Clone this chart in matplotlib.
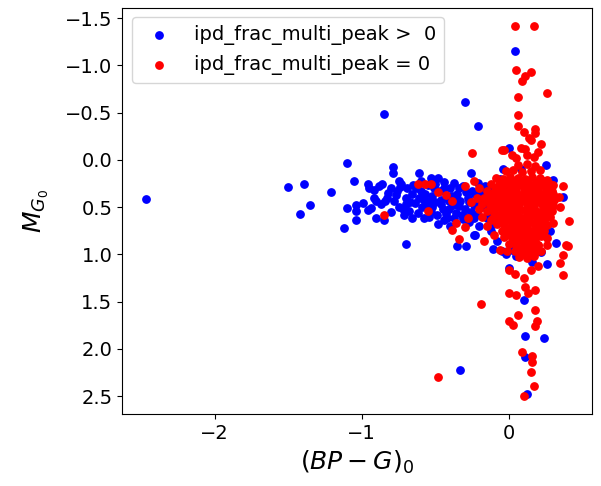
"""
Colour-magnitude diagram: ipd_frac_multi_peak > 0 vs = 0
"""
import matplotlib
matplotlib.use("Agg")
import matplotlib.pyplot as plt

plt.rcParams.update({
    "font.size": 14, "axes.labelsize": 18, "legend.fontsize": 14,
    "xtick.labelsize": 14, "ytick.labelsize": 14,
})

# (BP-G)_0 and M_G0, multi-peak > 0 (blue)
blue_x = [
    -2.47, -1.50, -1.39, -1.42, -1.35, -1.21, -1.10, -1.05, -1.10, -1.04,
    -1.04, -1.04, -1.12, -0.99, -0.96, -0.95, -0.92, -0.90, -0.96, -0.94,
    -0.90, -0.85, -0.30, -0.21, 0.04, 0.00, -0.79, -0.79, 0.25, -0.70,
    -0.85, -0.35, -0.29, -0.23, -0.11, 0.10, 0.11, 0.24, 0.11, 0.12,
    -0.33, 0.00, 0.16, 0.26, 0.32, 0.37, -0.26, -0.29, -0.24, -0.61,
    -0.53, -0.48, -0.44, -0.37,
    -0.88, -0.86, -0.75, -0.73, -0.84, -0.78, -0.72, -0.68, -0.66, -0.63,
    -0.60, -0.58, -0.56, -0.55, -0.52, -0.50, -0.49, -0.47, -0.45, -0.43,
    -0.42, -0.40, -0.38, -0.36, -0.35, -0.33, -0.31, -0.30, -0.28, -0.27,
    -0.25, -0.24, -0.22, -0.21, -0.20, -0.18, -0.17, -0.15, -0.14, -0.12,
    -0.10, -0.08, -0.06, -0.05, -0.02, 0.02, -0.82, -0.80, -0.77, -0.70,
    -0.69, -0.64, -0.62, -0.59, -0.57, -0.54, -0.51, -0.46, -0.44, -0.41,
    -0.39, -0.37, -0.34, -0.32, -0.29, -0.26, -0.23, -0.19, -0.16, -0.13,
    -0.09, -0.07, -0.04, -0.58, -0.53, -0.48, -0.44, -0.40, -0.60, -0.50,
    -0.66, -0.75, -0.80, -0.71, -0.87, -0.92, 0.30, 0.28, 0.22, 0.05,
    0.08, -0.04,
    -0.83, -0.76, -0.67, -0.61, -0.55, -0.46, -0.41, -0.34, -0.27, -0.19,
    -0.74, -0.65, -0.52, -0.43, -0.36, -0.31, -0.24, -0.15, -0.11, -0.70,
]
blue_y = [
    0.41, 0.29, 0.25, 0.57, 0.48, 0.34, 0.03, 0.22, 0.51, 0.48,
    0.54, 0.64, 0.72, 0.46, 0.26, 0.30, 0.32, 0.44, 0.53, 0.51,
    0.62, -0.49, -0.61, -0.36, -1.15, -0.13, 0.07, 0.14, 0.05, 0.89,
    0.64, 0.91, 0.91, 0.79, 0.94, 1.48, 1.86, 1.88, 2.09, 2.48,
    2.22, 1.14, 1.08, 1.10, 0.88, 0.39, 0.14, 0.60, 0.80, 0.14,
    0.19, 0.19, 0.23, 0.24,
    0.28, 0.25, 0.22, 0.25, 0.43, 0.44, 0.52, 0.54, 0.36, 0.30,
    0.33, 0.42, 0.48, 0.27, 0.38, 0.45, 0.58, 0.33, 0.52, 0.40,
    0.62, 0.30, 0.48, 0.56, 0.36, 0.44, 0.28, 0.52, 0.40, 0.66,
    0.33, 0.48, 0.57, 0.24, 0.70, 0.38, 0.50, 0.62, 0.30, 0.75,
    0.44, 0.86, 0.20, 0.96, 1.00, 0.95, 0.35, 0.30, 0.37, 0.40,
    0.30, 0.46, 0.56, 0.50, 0.36, 0.60, 0.30, 0.42, 0.30, 0.52,
    0.38, 0.62, 0.30, 0.58, 0.34, 0.55, 0.36, 0.45, 0.28, 0.55,
    0.34, 0.62, 0.25, 0.62, 0.55, 0.68, 0.64, 0.70, 0.22, 0.25,
    0.61, 0.50, 0.55, 0.58, 0.47, 0.40, 0.21, 0.75, 0.98, 1.02,
    0.10, 0.10,
    0.40, 0.33, 0.45, 0.40, 0.43, 0.47, 0.44, 0.49, 0.45, 0.33,
    0.29, 0.27, 0.50, 0.57, 0.41, 0.63, 0.61, 0.40, 0.68, 0.47,
]

# multi-peak = 0 (red)
red_x = [
    0.04, 0.17, 0.05, 0.15, 0.11, 0.09, 0.26, 0.06, 0.06, 0.06,
    0.10, 0.18, 0.18, 0.14, 0.15, 0.22, -0.25, -0.03, -0.05, 0.02,
    0.08, 0.11, 0.17, 0.12, 0.20, 0.05,
    0.37, 0.30, 0.34, 0.35, 0.41, 0.30, 0.28, 0.30, 0.26, 0.26,
    0.22, 0.20, 0.39, 0.40, 0.37, 0.35, 0.37, 0.20, 0.15, 0.04,
    0.10, 0.11, 0.00, 0.00, 0.05, 0.13, 0.18, -0.19, 0.06, 0.18,
    0.00, 0.03, 0.19, 0.18, 0.09, 0.16, 0.16, 0.15, 0.17, 0.10,
    -0.48, -0.85,
    -0.62, -0.57, -0.53, -0.48, -0.43, -0.39, -0.55, -0.30, -0.39, -0.36,
    -0.34, -0.28, -0.17, -0.06, -0.01, -0.30, -0.24, -0.20, -0.26, -0.22,
    -0.18, -0.15, -0.12, -0.20, -0.10,
    0.06, 0.12, 0.18,
    -0.02, 0.03, 0.09, 0.15, 0.21,
    -0.09, -0.04, 0.01, 0.06, 0.11, 0.16, 0.21, 0.26,
    -0.12, -0.07, -0.02, 0.03, 0.08, 0.13, 0.18, 0.23, 0.27,
    -0.15, -0.10, -0.05, 0.00, 0.05, 0.10, 0.15, 0.20, 0.25, 0.29,
    -0.17, -0.12, -0.07, -0.02, 0.03, 0.08, 0.13, 0.18, 0.23, 0.28, 0.31,
    -0.18, -0.13, -0.08, -0.03, 0.02, 0.07, 0.12, 0.17, 0.22, 0.27, 0.30,
    -0.15, -0.10, -0.05, 0.00, 0.05, 0.10, 0.15, 0.20, 0.25, 0.29,
    -0.11, -0.06, -0.01, 0.04, 0.09, 0.14, 0.19, 0.24, 0.28,
    -0.08, -0.03, 0.02, 0.07, 0.12, 0.17, 0.22, 0.26,
    -0.05, 0.00, 0.05, 0.10, 0.15, 0.20, 0.24,
    -0.03, 0.02, 0.07, 0.12, 0.17, 0.22,
    0.00, 0.05, 0.10, 0.15, 0.20,
    0.04, 0.09, 0.14, 0.19,
    0.07, 0.12, 0.17,
    -0.06, -0.01, 0.04, 0.08, 0.13, 0.19, 0.24,
    -0.09, -0.05, 0.01, 0.05, 0.11, 0.15, 0.20, 0.25,
    -0.13, -0.08, -0.03, 0.02, 0.07, 0.12, 0.18, 0.22, 0.27,
    -0.14, -0.10, -0.04, 0.01, 0.06, 0.10, 0.16, 0.21, 0.26,
    -0.12, -0.08, -0.02, 0.03, 0.07, 0.13, 0.17, 0.23, 0.27,
    -0.09, -0.04, 0.02, 0.06, 0.12, 0.16, 0.22, 0.26,
    -0.05, 0.00, 0.04, 0.10, 0.14, 0.19, 0.24,
    -0.02, 0.03, 0.08, 0.12, 0.18, 0.22,
    0.01, 0.05, 0.09, 0.15, 0.19,
    0.03, 0.07, 0.12, 0.18,
    0.06, 0.11, 0.16,
    0.10, 0.14,
]
red_y = [
    -1.42, -1.42, -0.95, -0.93, -0.89, -0.84, -0.71, -0.67, -0.47, -0.36,
    -0.29, -0.33, -0.28, -0.23, -0.21, -0.17, -0.07, -0.11, -0.11, -0.05,
    -0.13, -0.12, -0.03, -0.05, -0.08, -0.02,
    0.28, 0.27, 0.39, 0.50, 0.65, 0.36, 0.26, 0.67, 0.83, 0.90,
    0.96, 0.90, 0.90, 0.91, 1.01, 1.09, 1.22, 1.12, 1.17, 1.21,
    1.25, 1.34, 1.16, 1.41, 1.43, 1.41, 1.38, 1.52, 1.64, 1.59,
    1.71, 1.75, 1.71, 1.76, 2.03, 2.08, 2.14, 2.25, 2.39, 2.50,
    2.30, 0.58,
    0.26, 0.26, 0.26, 0.34, 0.37, 0.43, 0.54, 0.28, 0.74, 0.67,
    0.84, 0.62, 0.86, 0.95, 0.96, 0.71, 0.22, 0.30, 0.45, 0.40,
    0.60, 0.70, 0.64, 0.52, 0.80,
    0.05, 0.04, 0.06,
    0.12, 0.11, 0.13, 0.12, 0.11,
    0.19, 0.20, 0.18, 0.19, 0.20, 0.18, 0.19, 0.21,
    0.26, 0.27, 0.25, 0.26, 0.27, 0.25, 0.26, 0.27, 0.25,
    0.33, 0.34, 0.32, 0.33, 0.34, 0.32, 0.33, 0.34, 0.32, 0.33,
    0.40, 0.41, 0.39, 0.40, 0.41, 0.39, 0.40, 0.41, 0.39, 0.40, 0.42,
    0.47, 0.48, 0.46, 0.47, 0.48, 0.46, 0.47, 0.48, 0.46, 0.47, 0.49,
    0.54, 0.55, 0.53, 0.54, 0.55, 0.53, 0.54, 0.55, 0.53, 0.54,
    0.61, 0.62, 0.60, 0.61, 0.62, 0.60, 0.61, 0.62, 0.60,
    0.68, 0.69, 0.67, 0.68, 0.69, 0.67, 0.68, 0.69,
    0.75, 0.76, 0.74, 0.75, 0.76, 0.74, 0.75,
    0.82, 0.83, 0.81, 0.82, 0.83, 0.81,
    0.89, 0.90, 0.88, 0.89, 0.90,
    0.96, 0.97, 0.95, 0.96,
    1.03, 1.04, 1.02,
    0.22, 0.23, 0.22, 0.23, 0.22, 0.23, 0.22,
    0.30, 0.29, 0.30, 0.29, 0.30, 0.29, 0.30, 0.29,
    0.37, 0.36, 0.37, 0.36, 0.37, 0.36, 0.37, 0.36, 0.37,
    0.44, 0.43, 0.44, 0.43, 0.44, 0.43, 0.44, 0.43, 0.44,
    0.51, 0.50, 0.51, 0.50, 0.51, 0.50, 0.51, 0.50, 0.51,
    0.58, 0.57, 0.58, 0.57, 0.58, 0.57, 0.58, 0.57,
    0.65, 0.64, 0.65, 0.64, 0.65, 0.64, 0.65,
    0.72, 0.71, 0.72, 0.71, 0.72, 0.71,
    0.79, 0.78, 0.79, 0.78, 0.79,
    0.86, 0.85, 0.86, 0.85,
    0.93, 0.92, 0.93,
    1.00, 0.99,
]

fig = plt.figure(figsize=(6.01, 4.86), dpi=100)
ax = fig.add_axes([0.203, 0.148, 0.782, 0.836])
ax.scatter(blue_x, blue_y, s=28, color="blue", label="ipd_frac_multi_peak >  0")
ax.scatter(red_x, red_y, s=28, color="red", label="ipd_frac_multi_peak = 0")
ax.set_xlim(-2.63, 0.565)
ax.set_ylim(2.69, -1.61)
ax.set_xticks([-2, -1, 0])
ax.set_xlabel("$(BP-G)_0$")
ax.set_ylabel("$M_{G_0}$", labelpad=10)
ax.legend(loc="upper left")
fig.savefig("out.png", dpi=100)
